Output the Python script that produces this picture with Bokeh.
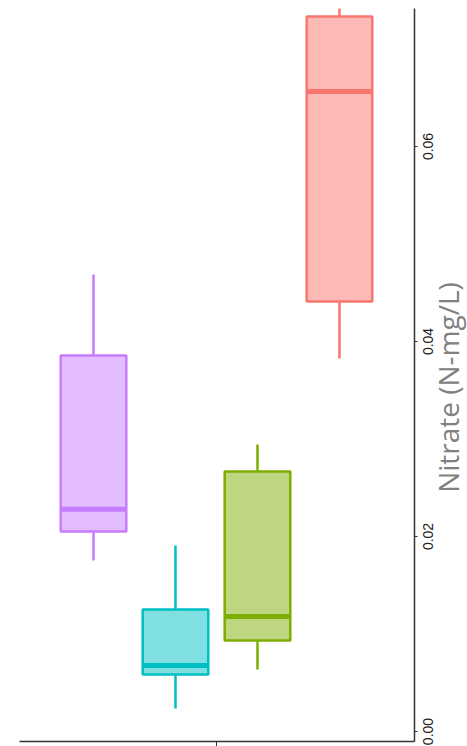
import math
from bokeh.plotting import figure
from bokeh.layouts import row
from bokeh.core.properties import value
from bokeh.models import Range1d, FixedTicker, ColumnDataSource
from bokeh.embed import file_html
from bokeh.resources import INLINE

# Data
groups = ["purple", "cyan", "green", "red"]
positions = [1, 2, 3, 4]
whisker_low = [0.01754, 0.00236, 0.00636, 0.03826]
q1 = [0.02051, 0.00585, 0.00933, 0.04410]
median = [0.02280, 0.00677, 0.01179, 0.06564]
q3 = [0.03856, 0.01251, 0.02667, 0.07333]
whisker_high = [0.04687, 0.01908, 0.02944, 0.07600]
colors = ["#C77CFF", "#00BFC4", "#7CAE00", "#F8766D"]
value_ticks = [0.00, 0.02, 0.04, 0.06]
tick_labels = ["0.00", "0.02", "0.04", "0.06"]
category_tick = [2.5]
axis_title = "Nitrate (N-mg/L)"

box_w = 0.80

src = ColumnDataSource(dict(
    x=positions, lo=whisker_low, q1=q1, med=median, q3=q3, hi=whisker_high,
    color=colors,
    xl=[x - box_w / 2 for x in positions],
    xr=[x + box_w / 2 for x in positions],
))

p = figure(
    frame_width=395, frame_height=733,
    x_range=Range1d(0.0976, 4.915), y_range=Range1d(-0.001026, 0.07415),
    output_backend="svg", toolbar_location=None, y_axis_location="right",
    min_border_left=19, min_border_right=4, min_border_top=8, min_border_bottom=5,
)
p.xgrid.visible = False
p.ygrid.visible = False
p.outline_line_color = None
p.background_fill_color = "white"

# whiskers
p.segment(x0="x", y0="q3", x1="x", y1="hi", source=src, line_color="color", line_width=2.5)
p.segment(x0="x", y0="q1", x1="x", y1="lo", source=src, line_color="color", line_width=2.5)
# boxes
p.vbar(x="x", width=box_w, bottom="q1", top="q3", source=src,
       fill_color="color", fill_alpha=0.5, line_color="color", line_width=2.5)
# medians
p.segment(x0="xl", y0="med", x1="xr", y1="med", source=src, line_color="color", line_width=5)

# value axis (right): line and ticks; rotated labels drawn in the side panel
ya = p.yaxis[0]
ya.ticker = FixedTicker(ticks=value_ticks)
ya.major_label_overrides = {v: "" for v in value_ticks}
ya.major_label_text_font_size = "1px"
ya.major_label_standoff = 0
ya.major_tick_out = 3
ya.major_tick_in = 0
ya.minor_tick_out = 0
ya.minor_tick_in = 0
ya.axis_line_color = "#333333"
ya.axis_line_width = 1.5
ya.major_tick_line_color = "#333333"

# category axis (bottom)
xa = p.xaxis[0]
xa.ticker = FixedTicker(ticks=category_tick)
xa.major_label_overrides = {2.5: ""}
xa.major_label_text_font_size = "1px"
xa.major_label_standoff = 0
xa.major_tick_out = 5
xa.major_tick_in = 0
xa.minor_tick_out = 0
xa.minor_tick_in = 0
xa.axis_line_color = "#333333"
xa.axis_line_width = 1.5
xa.major_tick_line_color = "#333333"

# side panel on the same value scale (frame 8..746 px): rotated tick labels and axis title
side = figure(
    frame_width=49, frame_height=738,
    x_range=Range1d(0, 49), y_range=Range1d(-0.001538, 0.07415),
    output_backend="svg", toolbar_location=None,
    x_axis_location=None, y_axis_location=None,
    min_border_left=0, min_border_right=0, min_border_top=8, min_border_bottom=0,
)
side.xgrid.visible = False
side.ygrid.visible = False
side.outline_line_color = None

side.text(x=[9.5] * len(value_ticks), y=value_ticks, text=tick_labels, angle=math.pi / 2,
          text_align="center", text_baseline="middle",
          text_font=value("Liberation Sans"), text_font_size="14px", text_color="#222222")
side.text(x=[29.5], y=[0.03528], text=[axis_title], angle=math.pi / 2,
          text_align="center", text_baseline="middle",
          text_font=value("Open Sans"), text_font_size="28px", text_color="#808080")

layout = row(p, side)
open("out.html", "w").write(file_html(layout, INLINE))
